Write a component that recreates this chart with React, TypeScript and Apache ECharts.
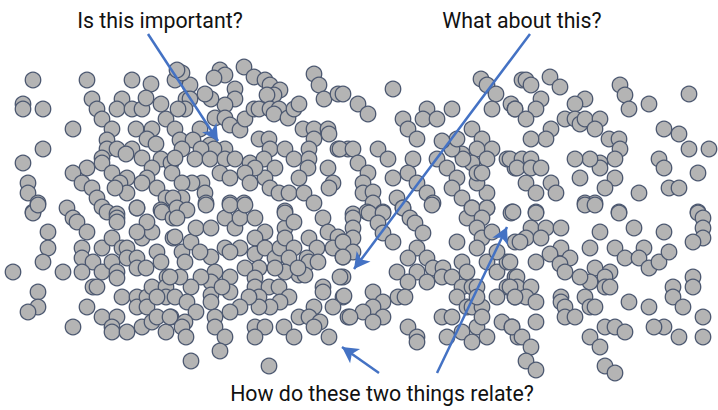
import React, { useEffect, useRef } from "react";
import * as echarts from "echarts";

// Dot positions (x to the right, y downward)
const dotsLeft: number[][] = [
  [33,80],[87,80],[132,80],[151,84],[23,104],[23,109],[43,109],[92,99],[97,109],[122,99],[117,109],[132,109],[142,109],[146,98],[161,104],[175,80],
  [102,119],[112,129],[73,129],[136,129],[152,129],[166,119],[147,139],[107,140],[107,149],[117,149],[132,149],[126,154],[156,144],[43,149],[23,163],
  [102,158],[102,163],[142,158],[161,159],[171,163],[87,168],[73,173],[112,173],[152,168],[147,178],[127,178],[120,183],[82,183],[92,188],[142,183],
  [157,188],[172,173],[28,183],[28,193],[127,193],[97,198],[115,188],[38,203],[166,198],[67,208],[102,207],[137,208],[33,212],[107,212],[117,214],
  [161,210],[177,203],
  [33,213],[38,205],[73,218],[77,222],[87,232],[48,232],[48,248],[43,262],[13,272],[63,272],[82,248],[82,258],[93,262],[102,248],[112,238],
  [102,272],[112,262],[117,272],[117,278],[122,248],[127,248],[127,258],[137,258],[137,268],[146,268],[157,252],[161,262],[142,238],[152,232],
  [147,222],[137,232],[162,212],[117,218],[117,222],[137,208],[173,218],[173,238],[82,272],[93,287],[97,287],[38,292],[38,307],[28,312],[87,307],
  [122,297],[137,297],[137,307],[147,297],[147,307],[152,287],[167,277],[166,287],[166,297],[157,297],[102,317],[117,317],[112,327],[112,332],
  [127,332],[142,327],[152,322],[157,317],[166,332],[171,317],[73,327]
];

const dotsCenter: number[][] = [
  [220,70],[225,75],[214,78],[244,67],[254,77],[265,80],[270,85],[280,90],[274,95],[267,95],[235,89],[235,99],[225,105],[211,99],[205,94],[190,85],
  [182,73],[177,70],[186,99],[190,99],[185,109],[178,109],[215,118],[225,118],[230,125],[240,130],[245,119],[254,109],[259,109],[270,109],[279,109],
  [274,114],[288,118],[294,109],[299,104],[314,74],[319,85],[324,99],[338,94],[343,94],[200,129],[175,129],[180,140],[193,140],[210,145],[225,149],
  [214,149],[201,149],[182,149],[175,158],[195,159],[210,159],[225,159],[235,159],[250,163],[259,139],[269,139],[270,149],[264,159],[285,149],
  [294,159],[303,129],[314,129],[328,129],[329,134],[314,139],[309,149],[309,159],[338,149],[348,149],[275,168],[265,178],[255,168],[245,173],
  [220,173],[230,178],[250,183],[308,168],[299,178],[328,168],[333,183],[329,188],[270,188],[279,193],[289,193],[304,193],[314,203],[285,211],
  [230,203],[244,203],[202,183],[205,193],[206,203],[192,183],[182,183],[182,198],[173,198],[177,208],[187,210],
  [177,218],[175,237],[182,252],[185,262],[191,242],[196,228],[206,205],[211,228],[211,257],[200,252],[225,218],[235,228],[240,218],[230,205],
  [245,205],[255,218],[265,232],[255,238],[240,248],[225,248],[230,252],[255,254],[265,248],[275,258],[280,248],[285,228],[285,213],[294,222],
  [285,238],[294,248],[289,258],[309,238],[317,248],[307,258],[309,262],[299,275],[305,275],[285,272],[275,268],[259,268],[245,268],[255,278],
  [255,287],[269,287],[279,287],[289,297],[280,302],[270,307],[259,297],[259,307],[249,297],[240,307],[230,277],[230,292],[230,312],[215,272],
  [211,282],[211,295],[211,302],[222,287],[201,277],[191,287],[180,277],[170,277],[175,297],[187,302],[196,312],[170,317],[185,322],[182,327],
  [186,337],[215,317],[215,327],[225,337],[255,327],[265,327],[255,337],[284,327],[294,337],[220,351],[191,361],[269,366],[323,218],[328,232],
  [338,237],[343,242],[333,248],[343,257],[318,262],[298,268],[343,277],[323,287],[323,292],[343,297],[333,307],[314,307],[299,317],[309,317],
  [320,322],[314,327],[329,337],[348,317]
];

const dotsMiddle: number[][] = [
  [393,89],[358,104],[368,114],[403,119],[408,129],[417,139],[427,109],[423,119],[437,119],[452,109],[481,79],[487,85],[496,94],[492,109],
  [511,104],[515,109],[522,80],[472,129],[482,139],[492,149],[477,149],[487,159],[472,163],[462,154],[463,159],[452,149],[457,139],[442,141],
  [437,159],[447,168],[457,178],[452,188],[462,198],[472,208],[487,208],[487,193],[477,183],[477,173],[482,173],[507,159],[515,168],[512,212],
  [340,149],[353,149],[358,163],[368,173],[363,183],[363,193],[373,192],[373,203],[383,212],[353,214],[367,212],[378,149],[388,159],[413,159],
  [393,178],[408,173],[417,183],[427,193],[433,203],[397,198],[403,208],
  [353,218],[353,228],[353,238],[343,242],[353,252],[343,257],[369,213],[383,213],[378,223],[383,233],[393,242],[403,208],[410,218],[415,223],
  [423,233],[432,205],[417,248],[408,258],[427,258],[433,268],[443,268],[442,277],[452,277],[417,272],[397,272],[408,282],[427,282],[457,242],
  [462,262],[467,272],[462,287],[457,297],[472,287],[477,287],[467,307],[472,307],[482,307],[477,297],[467,218],[472,208],[487,208],[482,218],
  [477,228],[482,238],[492,232],[477,248],[487,262],[497,272],[507,262],[497,252],[511,213],[515,242],[507,287],[515,277],[515,297],[497,297],
  [340,277],[344,296],[373,292],[383,302],[373,307],[363,312],[350,317],[383,317],[373,322],[398,297],[405,297],[442,317],[452,317],[462,332],
  [477,327],[482,317],[487,337],[472,342],[447,337],[502,322],[512,327],[408,327],[417,337],[417,342],[518,337]
];

const dotsRight: number[][] = [
  [526,80],[531,85],[550,77],[560,87],[620,85],[625,95],[629,109],[649,104],[689,94],[585,99],[575,104],[541,99],[536,109],[515,109],[526,119],
  [565,119],[575,119],[580,124],[585,119],[600,119],[595,129],[551,129],[546,139],[531,139],[609,139],[619,139],[620,149],[615,159],[600,163],
  [600,168],[590,159],[575,159],[664,129],[679,134],[689,149],[709,149],[659,159],[664,168],[698,173],[510,159],[522,159],[531,159],[517,168],
  [531,168],[541,168],[526,183],[536,193],[551,183],[556,193],[580,178],[615,178],[605,188],[639,193],[669,188],[679,188],[585,203],[595,203],
  [513,212],[536,212],[619,212],[698,212],
  [536,213],[585,205],[595,205],[619,213],[698,213],[703,218],[703,228],[703,238],[693,242],[531,228],[546,228],[561,228],[526,238],[520,242],
  [541,238],[600,232],[634,228],[664,232],[590,248],[615,248],[625,258],[644,248],[639,258],[649,268],[659,262],[669,252],[561,248],[570,258],
  [550,254],[560,264],[565,272],[536,262],[510,262],[595,268],[610,272],[605,277],[605,287],[610,287],[590,282],[580,277],[517,277],[517,287],
  [510,287],[531,287],[526,297],[515,297],[536,302],[561,297],[561,302],[565,307],[565,317],[575,317],[585,297],[590,307],[595,307],[629,302],
  [649,307],[673,287],[673,297],[683,307],[693,277],[693,287],[703,317],[703,337],[679,337],[664,327],[654,327],[605,327],[615,327],[625,332],
  [590,337],[600,347],[605,366],[615,373],[536,322],[512,327],[522,337],[531,347],[526,361],[536,370]
];

// Annotation arrows: [fromX, fromY, toX, toY]
const arrows: number[][] = [
  [148, 34, 218, 141],
  [530, 34, 354, 269],
  [437, 373, 507, 227],
  [379, 373, 342, 347]
];

const labels: { text: string; x: number; y: number }[] = [
  { text: "Is this important?", x: 160, y: 20 },
  { text: "What about this?", x: 522, y: 20 },
  { text: "How do these two things relate?", x: 382, y: 393 }
];

export default function App() {
  const ref = useRef<HTMLDivElement>(null);
  useEffect(() => {
    document.body.style.margin = "0";
    const chart = echarts.init(ref.current!, null, { renderer: "svg" });
    const allDots = [...dotsLeft, ...dotsCenter, ...dotsMiddle, ...dotsRight];
    chart.setOption({
      animation: false,
      backgroundColor: "#ffffff",
      grid: { left: 0, right: 0, top: 0, bottom: 0 },
      xAxis: { type: "value", min: 0, max: 718, show: false },
      yAxis: { type: "value", min: 0, max: 410, inverse: true, show: false },
      series: [
        {
          type: "scatter",
          data: allDots,
          symbol: "circle",
          symbolSize: 15.5,
          itemStyle: { color: "#b4b4b4", borderColor: "#4c5870", borderWidth: 1.3, opacity: 1 },
          z: 2
        },
        {
          type: "scatter",
          data: [],
          z: 5,
          markLine: {
            silent: true,
            symbol: ["none", "arrow"],
            symbolSize: [13, 16],
            label: { show: false },
            lineStyle: { color: "#4472c4", width: 2.5, type: "solid" },
            data: arrows.map((a) => [
              { coord: [a[0], a[1]] },
              { coord: [a[2], a[3]] }
            ])
          }
        }
      ],
      graphic: labels.map((l) => ({
        type: "text",
        x: l.x,
        y: l.y,
        scaleX: 0.97,
        style: {
          text: l.text,
          fill: "#111111",
          font: "22px Roboto, 'Noto Sans', sans-serif",
          align: "center",
          verticalAlign: "middle"
        },
        z: 10
      }))
    });
    return () => chart.dispose();
  }, []);
  return <div ref={ref} style={{ width: 718, height: 410 }} />;
}
